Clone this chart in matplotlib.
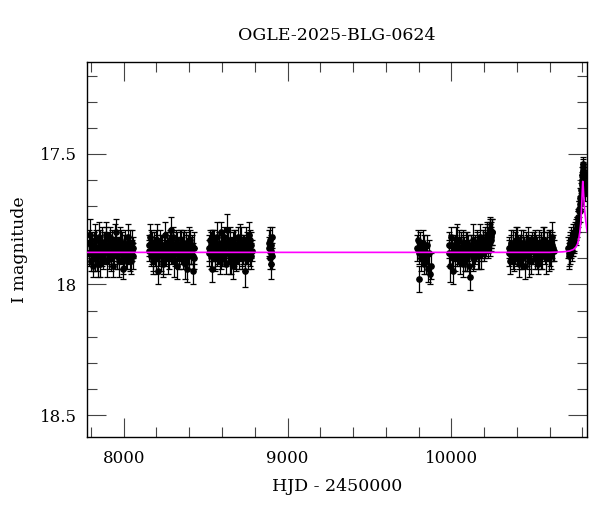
import matplotlib
matplotlib.use("Agg")
import matplotlib.pyplot as plt
from matplotlib.ticker import MultipleLocator, FixedLocator, FixedFormatter

TITLE = "OGLE-2025-BLG-0624"
XLABEL = "HJD - 2450000"
YLABEL = "I magnitude"
XTICKS = [8000, 9000, 10000]
XTICKLABELS = ["8000", "9000", "10000"]
YTICKS = [17.5, 18.0, 18.5]
YTICKLABELS = ["17.5", "18", "18.5"]

# Season 1
S1_t = [7786, 7791, 7797, 7802, 7808, 7813, 7819, 7824, 7830, 7836,
        7841, 7847, 7853, 7858, 7864, 7870, 7875, 7881, 7887, 7893,
        7898, 7904, 7910, 7916, 7921, 7927, 7933, 7939, 7945, 7951,
        7957, 7963, 7969, 7975, 7981, 7987, 7993, 7999, 8006, 8013,
        8020, 8028, 8036, 8044, 8052, 8058]
S1_m = [17.84, 17.88, 17.81, 17.91, 17.86, 17.93, 17.85, 17.89, 17.83, 17.90,
        17.87, 17.82, 17.92, 17.86, 17.88, 17.84, 17.90, 17.85, 17.87, 17.83,
        17.91, 17.86, 17.89, 17.82, 17.88, 17.85, 17.93, 17.87, 17.84, 17.80,
        17.89, 17.86, 17.91, 17.83, 17.88, 17.85, 17.94, 17.87, 17.84, 17.90,
        17.86, 17.88, 17.85, 17.91, 17.87, 17.89]
S1_e = [0.05, 0.04, 0.06, 0.04, 0.05, 0.04, 0.05, 0.06, 0.04, 0.05,
        0.04, 0.06, 0.05, 0.04, 0.05, 0.06, 0.04, 0.05, 0.04, 0.05,
        0.06, 0.04, 0.05, 0.04, 0.05, 0.06, 0.04, 0.05, 0.04, 0.05,
        0.05, 0.04, 0.06, 0.05, 0.04, 0.05, 0.04, 0.06, 0.05, 0.04,
        0.05, 0.04, 0.06, 0.05, 0.04, 0.05]
S1b_t = [7789, 7800, 7811, 7822, 7833, 7845, 7856, 7867, 7878, 7890,
         7901, 7912, 7924, 7935, 7947, 7958, 7970, 7982, 7995, 8003,
         8017, 8025, 8033, 8041, 8049, 8055]
S1b_m = [17.88, 17.85, 17.90, 17.83, 17.87, 17.92, 17.84, 17.89, 17.86, 17.81,
         17.88, 17.85, 17.90, 17.87, 17.83, 17.89, 17.86, 17.84, 17.91, 17.85,
         17.88, 17.82, 17.87, 17.90, 17.84, 17.86]
S1b_e = [0.05, 0.04, 0.05, 0.06, 0.04, 0.05, 0.05, 0.04, 0.06, 0.05,
         0.04, 0.05, 0.05, 0.04, 0.06, 0.05, 0.04, 0.05, 0.05, 0.04,
         0.06, 0.05, 0.04, 0.05, 0.05, 0.04]

# Season 2
S2_t = [8152, 8158, 8164, 8170, 8176, 8182, 8188, 8194, 8200, 8206,
        8212, 8218, 8224, 8230, 8236, 8242, 8248, 8254, 8260, 8266,
        8272, 8278, 8284, 8290, 8296, 8302, 8308, 8314, 8320, 8326,
        8332, 8338, 8344, 8350, 8356, 8362, 8368, 8374, 8380, 8386,
        8392, 8398, 8404, 8412, 8420, 8428]
S2_m = [17.85, 17.82, 17.89, 17.86, 17.91, 17.84, 17.88, 17.83, 17.90, 17.86,
        17.95, 17.87, 17.84, 17.89, 17.85, 17.92, 17.86, 17.81, 17.88, 17.84,
        17.90, 17.86, 17.83, 17.79, 17.87, 17.85, 17.91, 17.88, 17.84, 17.93,
        17.86, 17.89, 17.85, 17.83, 17.87, 17.90, 17.84, 17.88, 17.86, 17.94,
        17.85, 17.89, 17.83, 17.87, 17.95, 17.90]
S2_e = [0.04, 0.05, 0.04, 0.06, 0.05, 0.04, 0.05, 0.04, 0.06, 0.05,
        0.05, 0.04, 0.05, 0.06, 0.04, 0.05, 0.04, 0.05, 0.05, 0.04,
        0.06, 0.05, 0.04, 0.05, 0.04, 0.05, 0.06, 0.04, 0.05, 0.05,
        0.04, 0.05, 0.06, 0.04, 0.05, 0.04, 0.05, 0.04, 0.06, 0.05,
        0.04, 0.05, 0.04, 0.05, 0.05, 0.04]
S2b_t = [8155, 8167, 8179, 8191, 8203, 8215, 8227, 8239, 8251, 8263,
         8275, 8287, 8299, 8311, 8323, 8335, 8347, 8359, 8371, 8383,
         8395, 8401, 8408, 8416, 8424, 8432]
S2b_m = [17.87, 17.84, 17.90, 17.86, 17.83, 17.88, 17.85, 17.91, 17.87, 17.84,
         17.89, 17.86, 17.82, 17.88, 17.85, 17.90, 17.87, 17.84, 17.92, 17.86,
         17.88, 17.83, 17.87, 17.85, 17.89, 17.86]
S2b_e = [0.04, 0.05, 0.05, 0.04, 0.06, 0.05, 0.04, 0.05, 0.05, 0.04,
         0.05, 0.06, 0.04, 0.05, 0.05, 0.04, 0.05, 0.04, 0.06, 0.05,
         0.04, 0.05, 0.05, 0.04, 0.05, 0.06]

# Season 3
S3_t = [8518, 8524, 8530, 8536, 8541, 8547, 8553, 8559, 8565, 8571,
        8576, 8582, 8588, 8594, 8600, 8606, 8611, 8617, 8623, 8629,
        8635, 8641, 8646, 8652, 8658, 8664, 8670, 8676, 8681, 8687,
        8693, 8699, 8705, 8711, 8716, 8722, 8728, 8734, 8740, 8746,
        8751, 8757, 8763, 8769, 8775, 8780]
S3_m = [17.86, 17.83, 17.89, 17.85, 17.94, 17.87, 17.84, 17.90, 17.86, 17.82,
        17.88, 17.85, 17.91, 17.80, 17.87, 17.84, 17.89, 17.86, 17.92, 17.79,
        17.85, 17.88, 17.83, 17.90, 17.86, 17.93, 17.84, 17.88, 17.85, 17.91,
        17.87, 17.82, 17.89, 17.86, 17.84, 17.90, 17.87, 17.85, 17.95, 17.83,
        17.88, 17.86, 17.81, 17.89, 17.85, 17.87]
S3_e = [0.05, 0.04, 0.05, 0.06, 0.05, 0.04, 0.05, 0.04, 0.05, 0.06,
        0.04, 0.05, 0.05, 0.04, 0.06, 0.05, 0.04, 0.05, 0.04, 0.06,
        0.05, 0.04, 0.05, 0.06, 0.04, 0.05, 0.04, 0.05, 0.06, 0.04,
        0.05, 0.04, 0.05, 0.05, 0.06, 0.04, 0.05, 0.04, 0.06, 0.05,
        0.04, 0.05, 0.05, 0.04, 0.05, 0.04]
S3b_t = [8521, 8533, 8544, 8556, 8568, 8579, 8591, 8603, 8614, 8626,
         8638, 8649, 8661, 8673, 8684, 8696, 8708, 8719, 8731, 8743,
         8748, 8754, 8760, 8766, 8772, 8778]
S3b_m = [17.88, 17.85, 17.83, 17.90, 17.87, 17.84, 17.89, 17.86, 17.82, 17.88,
         17.85, 17.91, 17.87, 17.84, 17.89, 17.86, 17.83, 17.88, 17.85, 17.90,
         17.87, 17.84, 17.88, 17.86, 17.83, 17.89]
S3b_e = [0.05, 0.05, 0.04, 0.05, 0.06, 0.04, 0.05, 0.05, 0.04, 0.05,
         0.06, 0.05, 0.04, 0.05, 0.05, 0.04, 0.06, 0.05, 0.04, 0.05,
         0.05, 0.04, 0.06, 0.05, 0.04, 0.05]

# Season 4
S4_t = [8886, 8889, 8892, 8894, 8896, 8898, 8900, 8902, 8904, 8907]
S4_m = [17.86, 17.84, 17.90, 17.83, 17.88, 17.92, 17.85, 17.87, 17.82, 17.89]
S4_e = [0.04, 0.05, 0.04, 0.05, 0.04, 0.06, 0.04, 0.05, 0.04, 0.05]

# Season 5
S5_t = [9790, 9795, 9800, 9805, 9810, 9815, 9820, 9825, 9830, 9835,
        9840, 9846, 9852, 9858, 9864, 9870, 9876]
S5_m = [17.86, 17.83, 17.98, 17.88, 17.85, 17.90, 17.87, 17.84, 17.92, 17.86,
        17.89, 17.91, 17.85, 17.94, 17.88, 17.96, 17.93]
S5_e = [0.05, 0.04, 0.05, 0.04, 0.05, 0.05, 0.04, 0.05, 0.04, 0.05,
        0.04, 0.05, 0.04, 0.05, 0.05, 0.04, 0.05]

# Season 6
S6_t = [9984, 9990, 9996, 10002, 10008, 10014, 10020, 10026, 10032, 10038,
        10044, 10050, 10056, 10062, 10068, 10074, 10080, 10086, 10092, 10098,
        10104, 10110, 10116, 10122, 10128, 10134, 10140, 10146, 10152, 10158,
        10164, 10170, 10176, 10182, 10188, 10194, 10200, 10206, 10212, 10218,
        10224, 10230, 10236, 10240, 10244, 10247]
S6_m = [17.85, 17.93, 17.82, 17.88, 17.95, 17.86, 17.90, 17.84, 17.89, 17.87,
        17.83, 17.91, 17.86, 17.88, 17.92, 17.85, 17.87, 17.90, 17.84, 17.89,
        17.86, 17.93, 17.97, 17.85, 17.88, 17.83, 17.90, 17.86, 17.87, 17.84,
        17.89, 17.85, 17.82, 17.88, 17.86, 17.84, 17.87, 17.83, 17.85, 17.81,
        17.84, 17.82, 17.80, 17.83, 17.81, 17.80]
S6_e = [0.05, 0.06, 0.04, 0.05, 0.05, 0.04, 0.05, 0.06, 0.04, 0.05,
        0.04, 0.05, 0.06, 0.04, 0.05, 0.04, 0.05, 0.05, 0.04, 0.06,
        0.05, 0.04, 0.05, 0.04, 0.05, 0.06, 0.04, 0.05, 0.04, 0.05,
        0.05, 0.04, 0.05, 0.06, 0.04, 0.05, 0.04, 0.05, 0.04, 0.05,
        0.06, 0.05, 0.05, 0.04, 0.05, 0.05]
S6b_t = [9987, 9999, 10011, 10023, 10035, 10047, 10059, 10071, 10083, 10095,
         10107, 10119, 10131, 10143, 10155, 10167, 10179, 10191, 10203, 10215,
         10221, 10227, 10233, 10238, 10242, 10246]
S6b_m = [17.88, 17.85, 17.90, 17.86, 17.83, 17.89, 17.87, 17.84, 17.91, 17.86,
         17.88, 17.85, 17.90, 17.87, 17.84, 17.88, 17.86, 17.83, 17.85, 17.82,
         17.84, 17.81, 17.83, 17.79, 17.82, 17.80]
S6b_e = [0.05, 0.04, 0.05, 0.05, 0.06, 0.04, 0.05, 0.05, 0.04, 0.06,
         0.05, 0.04, 0.05, 0.05, 0.04, 0.06, 0.05, 0.04, 0.05, 0.05,
         0.04, 0.05, 0.06, 0.05, 0.04, 0.05]

# Season 7
S7_t = [10350, 10356, 10362, 10368, 10374, 10380, 10386, 10392, 10398, 10404,
        10410, 10416, 10422, 10428, 10434, 10440, 10446, 10452, 10458, 10464,
        10470, 10476, 10482, 10488, 10494, 10500, 10506, 10512, 10518, 10524,
        10530, 10536, 10542, 10548, 10554, 10560, 10566, 10572, 10578, 10584,
        10590, 10596, 10602, 10608, 10614, 10620]
S7_m = [17.86, 17.91, 17.84, 17.88, 17.85, 17.90, 17.87, 17.83, 17.89, 17.86,
        17.92, 17.85, 17.88, 17.84, 17.90, 17.87, 17.86, 17.93, 17.85, 17.89,
        17.83, 17.88, 17.86, 17.91, 17.84, 17.87, 17.85, 17.90, 17.86, 17.88,
        17.92, 17.84, 17.87, 17.85, 17.89, 17.86, 17.83, 17.88, 17.90, 17.85,
        17.87, 17.84, 17.89, 17.86, 17.82, 17.86]
S7_e = [0.04, 0.05, 0.05, 0.04, 0.06, 0.05, 0.04, 0.05, 0.04, 0.05,
        0.05, 0.04, 0.06, 0.05, 0.04, 0.05, 0.04, 0.05, 0.05, 0.04,
        0.05, 0.06, 0.04, 0.05, 0.04, 0.05, 0.05, 0.04, 0.05, 0.06,
        0.04, 0.05, 0.04, 0.05, 0.05, 0.04, 0.05, 0.04, 0.06, 0.05,
        0.04, 0.05, 0.04, 0.05, 0.06, 0.05]
S7b_t = [10353, 10365, 10377, 10389, 10401, 10413, 10425, 10437, 10449, 10461,
         10473, 10485, 10497, 10509, 10521, 10533, 10545, 10557, 10569, 10581,
         10593, 10599, 10605, 10611, 10617, 10624]
S7b_m = [17.88, 17.85, 17.89, 17.86, 17.83, 17.90, 17.87, 17.84, 17.88, 17.86,
         17.91, 17.85, 17.87, 17.84, 17.89, 17.86, 17.88, 17.83, 17.87, 17.85,
         17.90, 17.86, 17.84, 17.88, 17.85, 17.87]
S7b_e = [0.05, 0.04, 0.05, 0.06, 0.05, 0.04, 0.05, 0.05, 0.04, 0.05,
         0.06, 0.04, 0.05, 0.05, 0.04, 0.05, 0.06, 0.05, 0.04, 0.05,
         0.05, 0.04, 0.05, 0.06, 0.05, 0.04]

# Season 8 (event)
S8_t = [10714, 10718, 10722, 10726, 10730, 10735, 10740, 10745, 10750, 10755,
        10760, 10765, 10770, 10774, 10778, 10782, 10785, 10788, 10791, 10794,
        10796, 10798, 10800, 10802, 10804, 10806, 10808, 10810, 10812, 10814]
S8_m = [17.86, 17.89, 17.84, 17.88, 17.83, 17.87, 17.85, 17.82, 17.84, 17.80,
        17.79, 17.77, 17.76, 17.74, 17.72, 17.71, 17.69, 17.67, 17.66, 17.64,
        17.62, 17.60, 17.58, 17.56, 17.55, 17.57, 17.59, 17.61, 17.63, 17.65]
S8_e = [0.04, 0.05, 0.04, 0.04, 0.05, 0.04, 0.04, 0.05, 0.04, 0.04,
        0.04, 0.03, 0.04, 0.03, 0.04, 0.03, 0.03, 0.04, 0.03, 0.03,
        0.03, 0.03, 0.03, 0.03, 0.03, 0.03, 0.03, 0.03, 0.03, 0.03]
S8b_t = [10716, 10724, 10732, 10738, 10748, 10758, 10768, 10776, 10783, 10790,
         10797, 10801, 10805, 10809, 10813]
S8b_m = [17.88, 17.85, 17.86, 17.84, 17.83, 17.81, 17.78, 17.75, 17.72, 17.68,
         17.61, 17.57, 17.54, 17.58, 17.62]
S8b_e = [0.05, 0.04, 0.04, 0.05, 0.04, 0.04, 0.04, 0.03, 0.04, 0.03,
         0.03, 0.03, 0.03, 0.03, 0.03]

# Model curve
MODEL_T = [7774, 10600, 10680, 10720, 10745, 10760, 10770, 10778, 10784, 10789,
           10793, 10796, 10799, 10801, 10802, 10803, 10805, 10808, 10812, 10816,
           10821, 10826, 10830]
MODEL_M = [17.877, 17.877, 17.875, 17.872, 17.866, 17.857, 17.845, 17.825, 17.80, 17.77,
           17.73, 17.69, 17.645, 17.615, 17.605, 17.61, 17.625, 17.66, 17.70, 17.73,
           17.76, 17.785, 17.80]

XLIM = (7774, 10830)
YLIM = (18.583, 17.149)

plt.rcParams['font.family'] = ['DejaVu Serif']
plt.rcParams['font.size'] = 12

fig = plt.figure(figsize=(6.0, 5.12), dpi=100)
ax = fig.add_axes([0.1445, 0.1471, 0.9789 - 0.1445, 0.8783 - 0.1471])

seasons = [(S1_t, S1_m, S1_e), (S1b_t, S1b_m, S1b_e),
           (S2_t, S2_m, S2_e), (S2b_t, S2b_m, S2b_e),
           (S3_t, S3_m, S3_e), (S3b_t, S3b_m, S3b_e),
           (S4_t, S4_m, S4_e), (S5_t, S5_m, S5_e),
           (S6_t, S6_m, S6_e), (S6b_t, S6b_m, S6b_e),
           (S7_t, S7_m, S7_e), (S7b_t, S7b_m, S7b_e),
           (S8_t, S8_m, S8_e), (S8b_t, S8b_m, S8b_e)]
for t, m, e in seasons:
    ax.errorbar(t, m, yerr=e, fmt='o', color='black', ecolor='black',
                markersize=3.8, elinewidth=0.9, capsize=2.2, capthick=0.9,
                zorder=2)

ax.plot(MODEL_T, MODEL_M, color='#ff00ff', lw=1.2, zorder=3)

ax.set_xlim(*XLIM)
ax.set_ylim(*YLIM)

ax.xaxis.set_major_locator(FixedLocator(XTICKS))
ax.xaxis.set_major_formatter(FixedFormatter(XTICKLABELS))
ax.xaxis.set_minor_locator(MultipleLocator(200))
ax.yaxis.set_major_locator(FixedLocator(YTICKS))
ax.yaxis.set_major_formatter(FixedFormatter(YTICKLABELS))
ax.yaxis.set_minor_locator(MultipleLocator(0.1))

ax.tick_params(which='both', direction='in', top=True, right=True,
               color='#444444', width=0.8)
ax.tick_params(which='major', length=13.5)
ax.tick_params(which='minor', length=7)
ax.tick_params(axis='x', which='major', pad=9.5, labelsize=12)
ax.tick_params(axis='y', which='major', pad=7, labelsize=12)

for s in ax.spines.values():
    s.set_linewidth(1.0)
    s.set_color('black')

ax.set_title(TITLE, fontsize=12.5, pad=16)
ax.set_xlabel(XLABEL, fontsize=12.5, labelpad=8)
ax.set_ylabel(YLABEL, fontsize=12.5, labelpad=8.5)

fig.savefig('out.png', dpi=100)
